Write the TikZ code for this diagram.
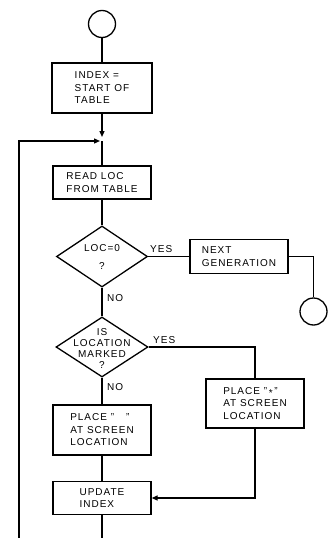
\documentclass[tikz,border=0pt]{standalone}
\usepackage{fontspec}
\setmainfont{Liberation Sans}[LetterSpace=10]
\usetikzlibrary{arrows.meta,shapes.geometric}
\begin{document}
\begin{tikzpicture}[x=1pt,y=-1pt,
  every node/.style={font=\fontsize{10}{12.5}\selectfont},
  box/.style={draw, line width=1.3pt, align=left, inner sep=0pt},
  dia/.style={draw, diamond, line width=1.3pt, inner sep=0pt},
  term/.style={draw, circle, line width=1.3pt, minimum size=27pt, inner sep=0pt},
  txt/.style={align=center, inner sep=0pt},
  lbl/.style={inner sep=0pt, anchor=west},
  line/.style={line width=1.3pt},
  arr/.style={line width=1.3pt, -{Triangle[length=6pt,width=5pt]}},
]
\useasboundingbox (0,0) rectangle (332,538);
% nodes
\node[term] (start) at (102,24) {};
\node[box, minimum width=100pt, minimum height=50pt] (init) at (102,88) {INDEX =\\START OF\\TABLE\hspace{4pt}};
\coordinate (merge) at (102,141);
\node[box, minimum width=98pt, minimum height=33pt] (read) at (102,182.5) {READ LOC\\FROM TABLE};
\node[dia, minimum width=91pt, minimum height=61pt] (d1) at (102,256.5) {};
\node[txt] (d1t) at (102,257) {LOC=0\\[5.5pt]?};
\node[box, minimum width=98pt, minimum height=34pt] (next) at (239,256.5) {NEXT\\GENERATION};
\node[term] (end) at (313.5,311.5) {};
\node[dia, minimum width=92pt, minimum height=60pt] (d2) at (102,347) {};
\node[txt, font=\fontsize{10}{11}\selectfont] (d2t) at (102,349) {IS\\LOCATION\\MARKED\\?};
\node[box, minimum width=98pt, minimum height=49pt] (star) at (255,403.5) {PLACE "\,\raisebox{-2pt}{*}\,"\\AT SCREEN\\LOCATION};
\node[box, minimum width=98pt, minimum height=50pt] (space) at (102,430) {PLACE "\hspace{12pt}"\\AT SCREEN\\LOCATION};
\node[box, minimum width=98pt, minimum height=33pt] (upd) at (102,498) {UPDATE\\INDEX};
\coordinate (bot) at (102,538);
\coordinate (botl) at (19,538);
\coordinate (topl) at (19,141);
% labels
\node[lbl] (y1) at (150,249) {YES};
\node[lbl] (n1) at (107,298) {NO};
\node[lbl] (y2) at (153,340) {YES};
\node[lbl] (n2) at (107,387) {NO};
% connectors
\draw[line] (start) -- (init);
\draw[arr, shorten >=4pt] (init) -- (merge);
\draw[arr, shorten >=2pt] (botl) -- (topl) -- (merge);
\draw[line] (merge) -- (read);
\draw[line] (read) -- (d1);
\draw[line] (d1.east) -- (next.west);
\draw[line] (next.east) -| (end);
\draw[line] (d1) -- (d2);
\draw[line] (d2.east) -| (star);
\draw[line] (d2) -- (space);
\draw[line] (space) -- (upd);
\draw[arr] (star) |- (upd.east);
\draw[line] (upd) -- (bot);
\end{tikzpicture}
\end{document}
